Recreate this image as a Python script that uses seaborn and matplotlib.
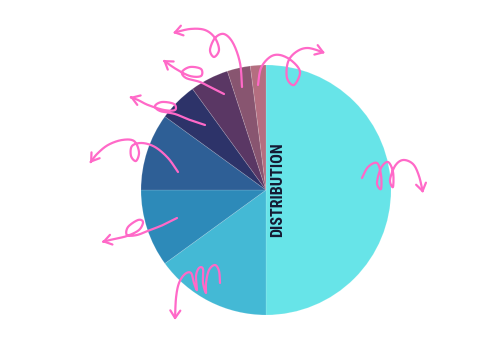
import numpy as np
import matplotlib
matplotlib.use("Agg")
import matplotlib.pyplot as plt
import seaborn as sns

# ---- data ----
categories = ["Segment 1", "Segment 2", "Segment 3", "Segment 4",
              "Segment 5", "Segment 6", "Segment 7", "Segment 8"]
shares = [50, 15, 10, 10, 5, 5, 3, 2]
palette = ["#67E4E8", "#44B9D5", "#2D8AB9", "#2E5F96",
           "#2D3369", "#5A3764", "#885570", "#B46E80"]
title_text = "DISTRIBUTION"

sns.set_theme(style="white")

fig = plt.figure(figsize=(5.0, 3.63), dpi=100)
ax = fig.add_axes([0, 0, 1, 1])

ax.pie(shares, colors=palette, startangle=90, counterclock=False,
       radius=1, center=(0, 0),
       wedgeprops=dict(linewidth=0.6, edgecolor=(1, 1, 1, 0.15)))

ax.set_aspect("auto")
ax.set_xlim(-266 / 125, (500 - 266) / 125)
ax.set_ylim((190 - 363) / 125, 190 / 125)
ax.axis("off")

ax.text(0.092, 0.0, title_text, rotation=90, ha="center", va="center",
        fontsize=11.6, fontweight="bold", color="#151a33",
        family=["Roboto Condensed", "Roboto", "DejaVu Sans"])

# ---- decorative pink squiggle arrows (pixel waypoints) ----
PINK = "#FF69C8"


def px(pts):
    a = np.asarray(pts, float)
    return np.column_stack([(a[:, 0] - 266) / 125, (190 - a[:, 1]) / 125])


def catmull(P, n=20):
    P = np.vstack([P[0], P, P[-1]])
    out = []
    for i in range(1, len(P) - 2):
        p0, p1, p2, p3 = P[i - 1], P[i], P[i + 1], P[i + 2]
        t = np.linspace(0, 1, n, endpoint=False)[:, None]
        out.append(0.5 * ((2 * p1) + (-p0 + p2) * t + (2 * p0 - 5 * p1 + 4 * p2 - p3) * t ** 2
                          + (-p0 + 3 * p1 - 3 * p2 + p3) * t ** 3))
    out.append(P[-2][None])
    return np.vstack(out)


def squiggle(waypoints):
    pts = catmull(px(waypoints))
    ax.plot(pts[:-3, 0], pts[:-3, 1], color=PINK, lw=1.6,
            solid_capstyle="round", solid_joinstyle="round", zorder=5)
    ax.annotate("", xy=pts[-1], xytext=pts[-6],
                arrowprops=dict(arrowstyle="->,head_length=0.45,head_width=0.3",
                                color=PINK, lw=1.6, shrinkA=0, shrinkB=0),
                zorder=5)


squiggles = [
    [(242, 87), (240, 63), (233, 43), (224, 34), (215, 38), (210, 50), (214, 57), (219, 50),
     (215, 38), (205, 30), (190, 29), (173, 33)],
    [(224, 94), (212, 88), (200, 82), (186, 78), (182, 72), (190, 67), (201, 69), (201, 76),
     (190, 76), (176, 69), (163, 60)],
    [(205, 125), (190, 120), (175, 114), (160, 111), (155, 106), (162, 102), (174, 104),
     (175, 110), (164, 110), (148, 105), (138, 100), (130, 97)],
    [(178, 172), (168, 158), (155, 147), (142, 143), (132, 146), (131, 156), (136, 161),
     (139, 152), (134, 141), (122, 140), (108, 145), (97, 154), (90, 163)],
    [(177, 218), (163, 225), (150, 230), (137, 235), (127, 235), (128, 227), (138, 220),
     (143, 222), (139, 230), (127, 236), (114, 239), (102, 242)],
    [(220, 283), (219, 271), (215, 265), (209, 270), (206, 283), (206, 293), (203, 283),
     (203, 269), (199, 268), (196, 276), (197, 290), (194, 283), (191, 273), (185, 274),
     (179, 283), (176, 298), (175, 320)],
    [(362, 178), (368, 167), (377, 163), (381, 175), (381, 189), (377, 183), (381, 168),
     (388, 162), (393, 172), (393, 187), (390, 180), (395, 166), (403, 160), (413, 164),
     (419, 176), (423, 193)],
    [(258, 85), (261, 68), (270, 57), (280, 55), (292, 61), (300, 72), (294, 85), (287, 78),
     (288, 62), (296, 52), (308, 48), (325, 53)],
]
for s in squiggles:
    squiggle(s)

fig.savefig("out.png", dpi=100, facecolor="white")
